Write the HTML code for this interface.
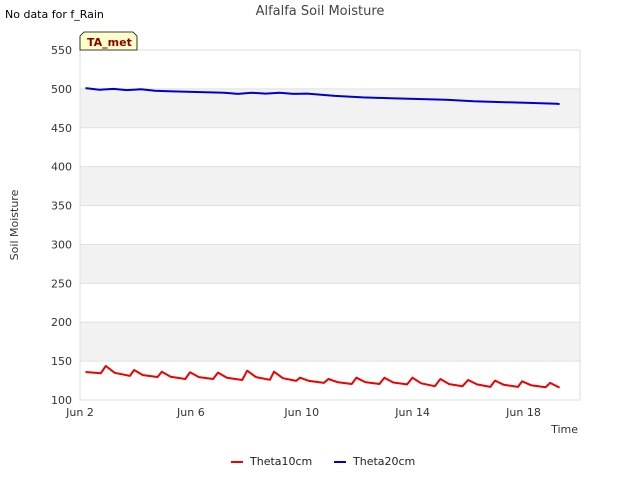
<!DOCTYPE html>
<html><head><meta charset="utf-8"><style>
body{margin:0;background:#fff;font-family:"Liberation Sans","DejaVu Sans",sans-serif}
svg text{font-family:"DejaVu Sans","Liberation Sans",sans-serif}
</style></head><body>
<svg width="640" height="480" xmlns="http://www.w3.org/2000/svg">
<rect width="640" height="480" fill="#fff"/>
<g id="bands"></g>
<g id="grid"></g>
<rect x="80" y="50" width="500" height="350" fill="none" stroke="#ddd"/>
<text x="320" y="15" text-anchor="middle" font-size="13" fill="#444">Alfalfa Soil Moisture</text>
<text x="5" y="18" font-size="11" fill="#000">No data for f_Rain</text>
<text x="18" y="225" font-size="11" fill="#333" transform="rotate(-90 18 225)" text-anchor="middle">Soil Moisture</text>
<text x="578" y="433" font-size="11" fill="#333" text-anchor="end">Time</text>
<g id="yticks"></g><g id="xticks"></g>
<g id="series"></g>
<g>
<path d="M80,50 L80,36 L84,32 L133,32 L137,36 L137,50 Z" fill="#ffffcc" stroke="#000" stroke-width="0.8"/>
<text x="87" y="46" font-size="11" font-weight="bold" fill="#8b0000">TA_met</text>
</g>
<g>
<g><line x1="231" y1="462" x2="243" y2="462" stroke="#e00" stroke-width="2"/><text x="250" y="465" font-size="11" fill="#222">Theta10cm</text></g>
<g><line x1="334" y1="462" x2="346" y2="462" stroke="#00c" stroke-width="2"/><text x="353" y="465" font-size="11" fill="#222">Theta20cm</text></g>
</g>
</svg>
<script>
const yTicks=[100,150,200,250,300,350,400,450,500,550];
const xTickDays=[2,6,10,14,18];
const xTickLabels=["Jun 2","Jun 6","Jun 10","Jun 14","Jun 18"];
const t10Times=[2.2,2.75,2.93,3.25,3.8,3.95,4.27,4.8,4.95,5.27,5.8,5.97,6.29,6.8,6.98,7.3,7.85,8.03,8.35,8.85,9.0,9.32,9.8,9.94,10.26,10.8,10.96,11.28,11.8,11.97,12.29,12.8,12.98,13.3,13.8,13.99,14.31,14.8,15.0,15.32,15.8,16.0,16.32,16.8,16.97,17.29,17.8,17.95,18.27,18.8,18.96,19.3];
const t10Values=[136,134.5,143.7,135,131,138.6,132,129.6,136.4,130,127,135.6,129.5,127,135.2,128.5,125.7,137.7,129.5,126,136.4,128,124.5,128.7,124.5,122,127,123,120.6,128.7,123,120.6,128.7,122.5,120,128.7,121.5,117.8,127,120.5,117.8,125.7,120,116.9,125,119.5,116.9,124,119,116.5,122,116];
const t20Times=[2.2,2.7,3.2,3.7,4.2,4.7,5.2,6.2,7.2,7.7,8.2,8.7,9.2,9.7,10.2,11.2,12.2,13.2,14.2,15.2,16.2,17.2,18.2,19.2,19.3];
const t20Values=[501,499,500,498.5,499.5,497.5,497,496,495,493.5,495,494,495,493.5,494,491,489,488,487,486,484,483,482,481,480.5];
const X=d=>80+(d-2)*27.72, Y=v=>400-(v-100)*350/450;
const NS="http://www.w3.org/2000/svg";
function mk(tag,attrs,parent){const e=document.createElementNS(NS,tag);for(const k in attrs)e.setAttribute(k,attrs[k]);document.getElementById(parent).appendChild(e);return e;}
for(let i=0;i<yTicks.length-1;i++){
 if(i%2===1){const r=mk('rect',{x:80,y:Y(yTicks[i+1]),width:500,height:Y(yTicks[i])-Y(yTicks[i+1]),fill:'#f2f2f2'},'bands');
 
 }
}
yTicks.forEach(v=>{
 const l=mk('line',{x1:80,x2:580,y1:Y(v),y2:Y(v),stroke:'#e0e0e0'},'grid');
 
 
 const t=mk('text',{x:72,y:Y(v)+4,'text-anchor':'end','font-size':11,fill:'#333'},'yticks');t.textContent=v;
 
 
});
xTickDays.forEach((d,i)=>{
 const t=mk('text',{x:X(d),y:416,'text-anchor':'middle','font-size':11,fill:'#333'},'xticks');t.textContent=xTickLabels[i];
 
 
});
function line(ts,vs,c,name){
 const p=mk('polyline',{points:ts.map((t,i)=>X(t).toFixed(1)+','+Y(vs[i]).toFixed(1)).join(' '),fill:'none',stroke:c,'stroke-width':2,'stroke-linejoin':'round'},'series');
 
 
}
line(t10Times,t10Values,'#e00','series-theta10cm');
line(t20Times,t20Values,'#00c','series-theta20cm');
</script>
</body></html>
